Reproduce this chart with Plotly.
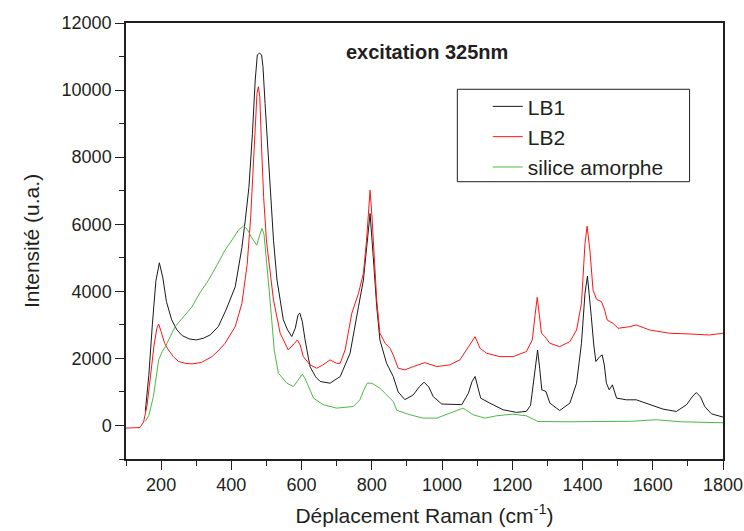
import plotly.graph_objects as go

# ---- data ----
lb1_x = [155, 165, 175, 185, 195, 205, 215, 230, 245, 260, 280, 300, 320, 340, 363, 385, 411, 430, 440, 450,
         460, 468, 474, 480, 486, 490, 496, 503, 510, 520, 530, 548, 560, 572, 582, 590, 595, 602, 610, 624,
         640, 653, 681, 710, 738, 750, 762, 776, 786, 795, 804, 814, 823, 842, 861, 875, 894, 918, 935, 949,
         962, 975, 999, 1030, 1056, 1075, 1085, 1094, 1102, 1110, 1136, 1174, 1212, 1240, 1252, 1260, 1266,
         1272, 1278, 1284, 1290, 1296, 1307, 1335, 1364, 1383, 1397, 1407, 1414, 1420, 1425, 1432, 1438,
         1449, 1456, 1462, 1468, 1476, 1485, 1497, 1525, 1553, 1591, 1629, 1667, 1696, 1712, 1724, 1736,
         1748, 1767, 1800]
lb1_y = [420, 1500, 3000, 4300, 4850, 4400, 3700, 3150, 2850, 2680, 2580, 2550, 2600, 2700, 2950, 3450, 4135,
         5300, 6150, 7100, 8700, 10300, 11050, 11100, 11050, 10700, 9600, 8300, 7000, 5525, 4335, 3150, 2850,
         2650, 2900, 3300, 3350, 3100, 2550, 1755, 1450, 1310, 1260, 1460, 2150, 2800, 3540, 4335, 5300, 6320,
         5030, 3540, 2550, 1855, 1460, 1000, 770, 910, 1150, 1290, 1150, 860, 640, 620, 620, 960, 1300, 1460,
         1100, 815, 666, 467, 390, 420, 600, 1260, 1900, 2250, 1700, 1060, 1040, 1010, 666, 446, 666, 1260,
         2450, 3940, 4454, 3900, 3243, 2400, 1905, 2053, 2103, 1800, 1260, 1062, 1211, 815, 765, 765, 616,
         488, 417, 616, 850, 982, 850, 565, 348, 250]

lb2_x = [100, 140, 150, 160, 170, 180, 188, 193, 200, 210, 221, 235, 250, 270, 288, 315, 345, 365, 382, 400,
         411, 430, 445, 455, 462, 468, 473, 477, 481, 486, 492, 500, 510, 520, 539, 562, 580, 588, 596, 605,
         624, 643, 660, 681, 700, 710, 724, 743, 762, 776, 785, 790, 795, 800, 804, 814, 823, 838, 852, 861,
         875, 894, 918, 951, 985, 1022, 1051, 1079, 1094, 1108, 1127, 1165, 1202, 1240, 1257, 1265, 1271,
         1277, 1283, 1293, 1307, 1335, 1364, 1383, 1397, 1407, 1413, 1421, 1430, 1440, 1454, 1463, 1470,
         1487, 1501, 1534, 1553, 1591, 1648, 1705, 1762, 1800]
lb2_y = [-80, -60, 100, 600, 1500, 2400, 2900, 3025, 2800, 2450, 2250, 2050, 1905, 1850, 1835, 1880, 2053,
         2250, 2450, 2750, 2945, 3640, 4800, 6200, 7700, 9000, 9900, 10100, 9800, 8300, 6800, 5500, 4533,
         3740, 2750, 2252, 2450, 2550, 2400, 2053, 1806, 1706, 1800, 1955, 1850, 1856, 2252, 3344, 3940,
         4533, 5525, 6300, 7012, 6300, 5525, 3740, 2750, 2450, 2300, 2100, 1706, 1657, 1755, 1874, 1755,
         1806, 1955, 2400, 2648, 2302, 2153, 2053, 2053, 2202, 2550, 3300, 3820, 3300, 2749, 2648, 2450,
         2350, 2500, 2847, 3640, 5426, 5941, 5227, 4037, 3760, 3690, 3442, 3145, 3046, 2897, 2945, 2996,
         2847, 2749, 2728, 2698, 2749]

silice_x = [155, 165, 178, 186, 193, 203, 212, 240, 265, 288, 310, 335, 360, 382, 400, 420, 435, 445, 458,
            472, 480, 487, 493, 500, 508, 515, 522, 534, 558, 577, 590, 602, 610, 619, 634, 662, 700, 747,
            766, 777, 787, 800, 823, 842, 861, 871, 909, 946, 985, 1022, 1060, 1089, 1122, 1155, 1202, 1240,
            1273, 1350, 1450, 1540, 1610, 1680, 1800]
silice_y = [120, 300, 863, 1500, 1955, 2200, 2350, 2945, 3250, 3540, 3950, 4335, 4800, 5227, 5500, 5822,
            5950, 5850, 5600, 5376, 5650, 5873, 5700, 5000, 4000, 3145, 2250, 1558, 1260, 1160, 1350, 1529,
            1400, 1160, 815, 616, 517, 565, 765, 1050, 1260, 1260, 1112, 913, 714, 450, 318, 218, 218, 367,
            517, 318, 218, 288, 338, 288, 119, 110, 120, 125, 170, 110, 80]

series_names = ["LB1", "LB2", "silice amorphe"]
series_colors = ["#1a1a1a", "#ff1414", "#4cb846"]

x_ticks = [200, 400, 600, 800, 1000, 1200, 1400, 1600, 1800]
x_labels = ["200", "400", "600", "800", "1000", "1200", "1400", "1600", "1800"]
y_ticks = [0, 2000, 4000, 6000, 8000, 10000, 12000]
y_labels = ["0", "2000", "4000", "6000", "8000", "10000", "12000"]
x_range = [100, 1800]
y_range = [-1000, 12000]

FONT = "Liberation Sans, Arial, sans-serif"
TXT = "#231f20"
AX = "#231f20"

fig = go.Figure()
for (xs, ys), name, col in zip([(lb1_x, lb1_y), (lb2_x, lb2_y), (silice_x, silice_y)],
                               series_names, series_colors):
    fig.add_trace(go.Scatter(x=xs, y=ys, mode="lines", name=name,
                             line=dict(color=col, width=1)))

axis_common = dict(
    showline=True, linecolor=AX, linewidth=1.5, mirror=True,
    ticks="outside", ticklen=9, tickwidth=1.3, tickcolor=AX,
    showgrid=False, zeroline=False, automargin=False,
    tickfont=dict(family=FONT, size=18, color=TXT),
)

fig.update_layout(
    width=744, height=531,
    margin=dict(l=126, r=21, t=23, b=72),
    paper_bgcolor="white", plot_bgcolor="white",
    xaxis=dict(range=x_range, tickvals=x_ticks, ticktext=x_labels,
               minor=dict(dtick=100, tick0=100, ticks="outside", ticklen=5, tickcolor=AX),
               title=dict(text="Déplacement Raman (cm<sup>-1</sup>)",
                          font=dict(family=FONT, size=21, color=TXT), standoff=14),
               **axis_common),
    yaxis=dict(range=y_range, tickvals=y_ticks, ticktext=y_labels,
               minor=dict(dtick=1000, tick0=0, ticks="outside", ticklen=5, tickcolor=AX),
               title=dict(text="Intensité (u.a.)",
                          font=dict(family=FONT, size=21, color=TXT), standoff=16),
               **axis_common),
    xaxis2=dict(overlaying="x", side="top", range=x_range, dtick=100, tick0=100,
                ticks="inside", ticklen=3, tickcolor=AX, showticklabels=False,
                showgrid=False, zeroline=False, showline=False, automargin=False),
    yaxis2=dict(overlaying="y", side="right", range=y_range, dtick=1000, tick0=0,
                ticks="inside", ticklen=3, tickcolor=AX, showticklabels=False,
                showgrid=False, zeroline=False, showline=False, automargin=False),
    showlegend=True,
    legend=dict(x=0.606, y=0.855, xanchor="left", yanchor="top",
                bgcolor="rgba(0,0,0,0)", borderwidth=0,
                font=dict(family=FONT, size=21, color=TXT),
                tracegroupgap=0, itemwidth=30),
    annotations=[dict(text="<b>excitation 325nm</b>", xref="paper", yref="paper",
                      x=0.505, y=0.933, xanchor="center", yanchor="middle", showarrow=False,
                      font=dict(family=FONT, size=20, color=TXT))],
    shapes=[dict(type="rect", xref="paper", yref="paper",
                 x0=0.555, x1=0.944, y0=0.636, y1=0.848,
                 line=dict(color=AX, width=1), fillcolor="rgba(0,0,0,0)")],
)

fig.write_html("out.html", config={"displayModeBar": False},
               post_script="document.body.style.margin='0';")
